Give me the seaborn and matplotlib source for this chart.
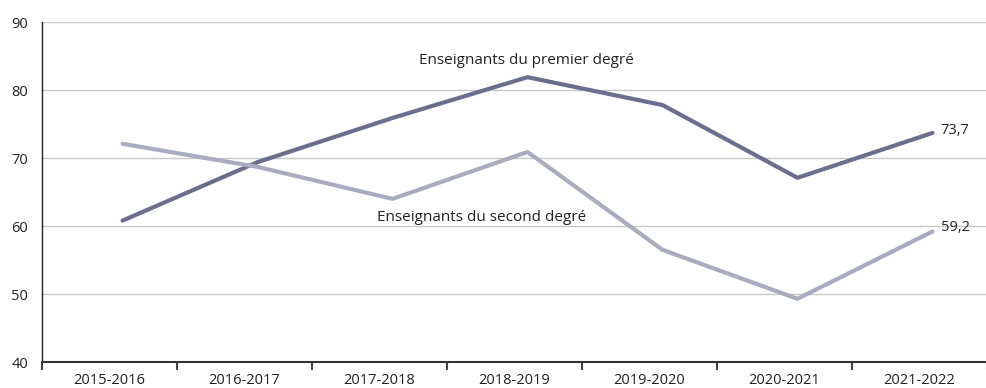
import pandas as pd
import seaborn as sns
import matplotlib.pyplot as plt
import matplotlib.transforms as mtransforms

# Data
years = ["2015-2016", "2016-2017", "2017-2018", "2018-2019", "2019-2020", "2020-2021", "2021-2022"]
premier = [60.8, 69.4, 75.9, 81.9, 77.8, 67.1, 73.7]
second = [72.1, 68.7, 64.0, 70.9, 56.5, 49.3, 59.2]
series_names = ["Enseignants du premier degré", "Enseignants du second degré"]

df = pd.DataFrame({
    "annee": years * 2,
    "valeur": premier + second,
    "serie": [series_names[0]] * len(years) + [series_names[1]] * len(years),
})
df["pos"] = list(range(len(years))) * 2

sns.set_style("white")
plt.rcParams["font.family"] = ["Open Sans", "DejaVu Sans"]

fig = plt.figure(figsize=(9.87, 3.88), dpi=100)
ax = fig.add_axes([0.0426, 0.067, 0.9574, 0.876])

colors = {series_names[0]: "#6b6e8f", series_names[1]: "#a9acbe"}
sns.lineplot(data=df, x="pos", y="valeur", hue="serie", palette=colors,
             linewidth=3, legend=False, ax=ax, zorder=3)

# in the original the points sit a little right of the category centres
shift = mtransforms.offset_copy(ax.transData, fig=fig, x=13, y=0, units="dots")
for line in ax.get_lines():
    line.set_transform(shift)

ax.set_xlim(-0.5, len(years) - 0.5)
ax.set_ylim(40, 90)
ax.set_yticks([40, 50, 60, 70, 80, 90])
ax.yaxis.grid(True, color="#c8c8c8", linewidth=1)
ax.set_axisbelow(True)

# category labels centred, tick marks at the boundaries
ax.set_xticks(range(len(years)))
ax.set_xticklabels(years)
ax.set_xticks([i - 0.5 for i in range(len(years) + 1)], minor=True)
ax.tick_params(axis="x", which="major", bottom=False, length=0, pad=8, labelsize=10.5, colors="#222222")
ax.tick_params(axis="x", which="minor", bottom=True, length=6, width=1.5, color="#444444", direction="out")
ax.tick_params(axis="y", length=0, pad=10, labelsize=10.5, colors="#222222")

for side in ["top", "right"]:
    ax.spines[side].set_visible(False)
ax.spines["left"].set_color("#222222")
ax.spines["left"].set_linewidth(1)
ax.spines["bottom"].set_color("#333333")
ax.spines["bottom"].set_linewidth(1.5)

ax.set_xlabel("")
ax.set_ylabel("")

# series labels and end values
ax.text(3.09, 84.4, series_names[0], ha="center", va="center", fontsize=11, color="#222222")
ax.text(2.76, 61.2, series_names[1], ha="center", va="center", fontsize=11, color="#222222")
ax.text(6.06, premier[-1] + 0.3, f"{premier[-1]:.1f}".replace(".", ","), ha="left", va="center",
        fontsize=10.5, color="#222222", transform=shift)
ax.text(6.06, second[-1] + 0.6, f"{second[-1]:.1f}".replace(".", ","), ha="left", va="center",
        fontsize=10.5, color="#222222", transform=shift)

fig.savefig("out.png", dpi=100)
